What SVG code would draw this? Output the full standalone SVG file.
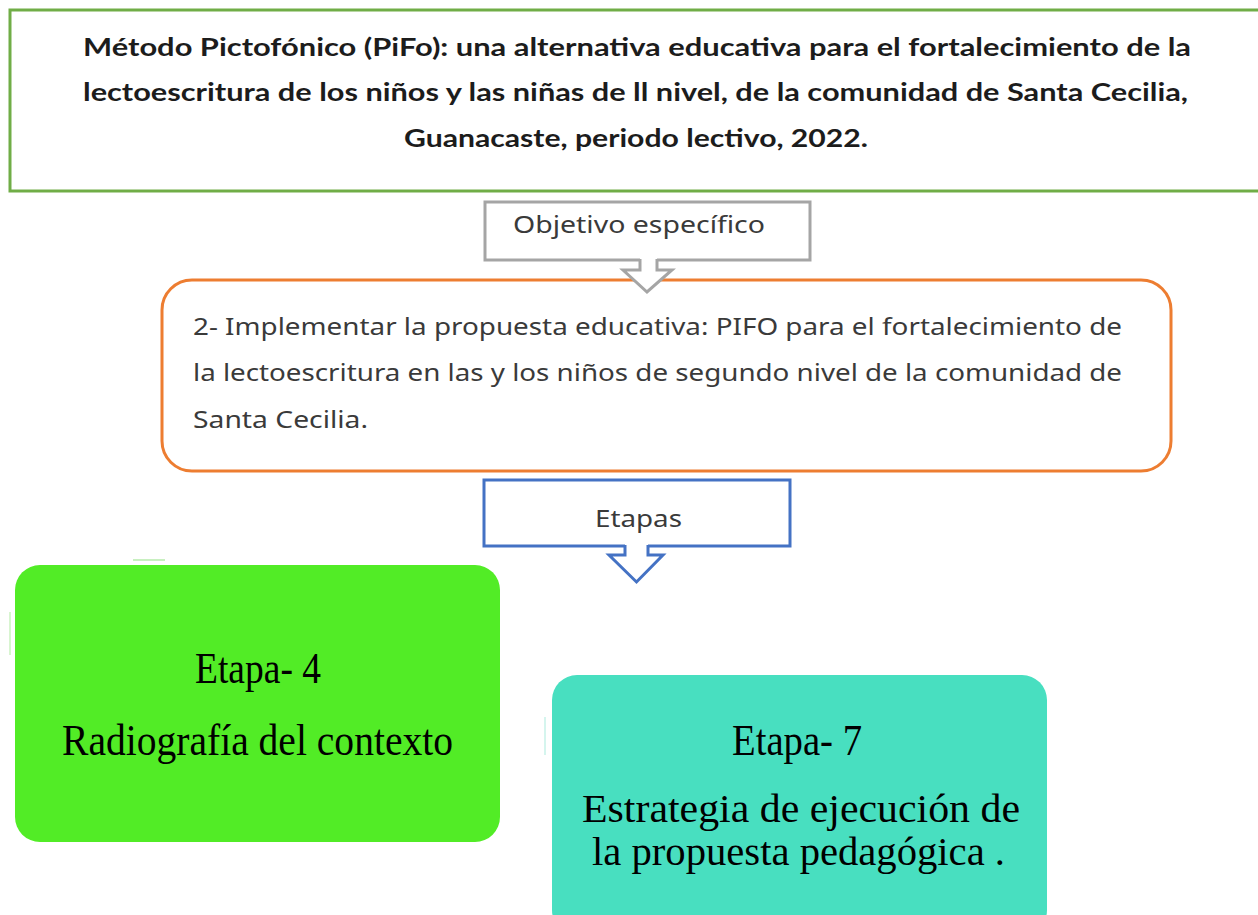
<svg xmlns="http://www.w3.org/2000/svg" width="1258" height="915" viewBox="0 0 1258 915" xml:space="preserve">
<style>
.title{font-family:"Lato","Liberation Sans",sans-serif;font-weight:bold;font-size:24px;fill:#1c1c1c}
.sans{font-family:"Noto Sans","Open Sans",sans-serif;font-size:24px;fill:#3a3a3a}
.serif{font-family:"Liberation Serif","Times New Roman",serif;font-size:45px;fill:#000}
.serif2{font-family:"Liberation Serif","Times New Roman",serif;font-size:41px;fill:#000}
.callout{fill:#fff;stroke-width:3;stroke-linejoin:miter}
</style>
<rect width="1258" height="915" fill="#fff"/>
<g id="title">
<rect x="10" y="10" width="1262" height="181" fill="#fff" stroke="#70AD47" stroke-width="3"/>
<text class="title" x="83" y="56" textLength="1108" lengthAdjust="spacingAndGlyphs">Método Pictofónico (PiFo): una alternativa  educativa para el fortalecimiento  de la</text>
<text class="title" x="83" y="101" textLength="1105" lengthAdjust="spacingAndGlyphs">lectoescritura  de los niños y las niñas de ll nivel,  de la comunidad de Santa Cecilia,</text>
<text class="title" x="404" y="147" textLength="464" lengthAdjust="spacingAndGlyphs">Guanacaste, periodo lectivo, 2022.</text>
</g>
<g id="objetivo">
<path class="callout" stroke="#A5A5A5" d="M640,260 H485 V202 H810 V260 H657"/>
<text class="sans" x="513" y="233" textLength="252" lengthAdjust="spacingAndGlyphs">Objetivo específico</text>
</g>
<g id="objetivo2">
<rect x="162" y="280" width="1009" height="191" rx="30" ry="30" fill="#fff" stroke="#ED7D31" stroke-width="3"/>
<text class="sans" x="193" y="335" textLength="929" lengthAdjust="spacingAndGlyphs">2- Implementar la propuesta educativa: PIFO para el fortalecimiento de</text>
<text class="sans" x="193" y="381" textLength="929" lengthAdjust="spacingAndGlyphs">la lectoescritura en las y los niños de segundo nivel de la comunidad de</text>
<text class="sans" x="193" y="428" textLength="175" lengthAdjust="spacingAndGlyphs">Santa Cecilia.</text>
</g>
<g id="etapas">
<path class="callout" stroke="#4472C4" d="M625,546 H484 V480 H790 V546 H648"/>
<text class="sans" x="595" y="527" textLength="87" lengthAdjust="spacingAndGlyphs">Etapas</text>
</g>
<g id="connectors">
<path class="callout" stroke="#A5A5A5" d="M640,259 V270 H623 L647,292 L672,270 H657 V259"/>
<path class="callout" stroke="#4472C4" d="M625,545 V555 H609 L636.5,582 L663,555 H648 V545"/>
</g>
<g id="etapa4">
<line x1="133" y1="560" x2="165" y2="560" stroke="#c8f0c0" stroke-width="2"/>
<line x1="10" y1="612" x2="10" y2="655" stroke="#d8f5d0" stroke-width="2"/>
<rect x="15" y="565" width="485" height="277" rx="25" ry="25" fill="#52EC26"/>
<text class="serif" x="195" y="683" textLength="126" lengthAdjust="spacingAndGlyphs">Etapa- 4</text>
<text class="serif" x="62" y="755" textLength="391" lengthAdjust="spacingAndGlyphs">Radiografía  del contexto</text>
</g>
<g id="etapa7">
<line x1="545" y1="717" x2="545" y2="755" stroke="#d5f5ee" stroke-width="2"/>
<rect x="552" y="675" width="495" height="260" rx="25" ry="25" fill="#48DFC0"/>
<text class="serif" x="732" y="755" textLength="130" lengthAdjust="spacingAndGlyphs">Etapa- 7</text>
<text class="serif2" x="582" y="822" textLength="438" lengthAdjust="spacingAndGlyphs">Estrategia   de ejecución  de</text>
<text class="serif2" x="592" y="865" textLength="413" lengthAdjust="spacingAndGlyphs">la  propuesta pedagógica .</text>
</g>
</svg>
